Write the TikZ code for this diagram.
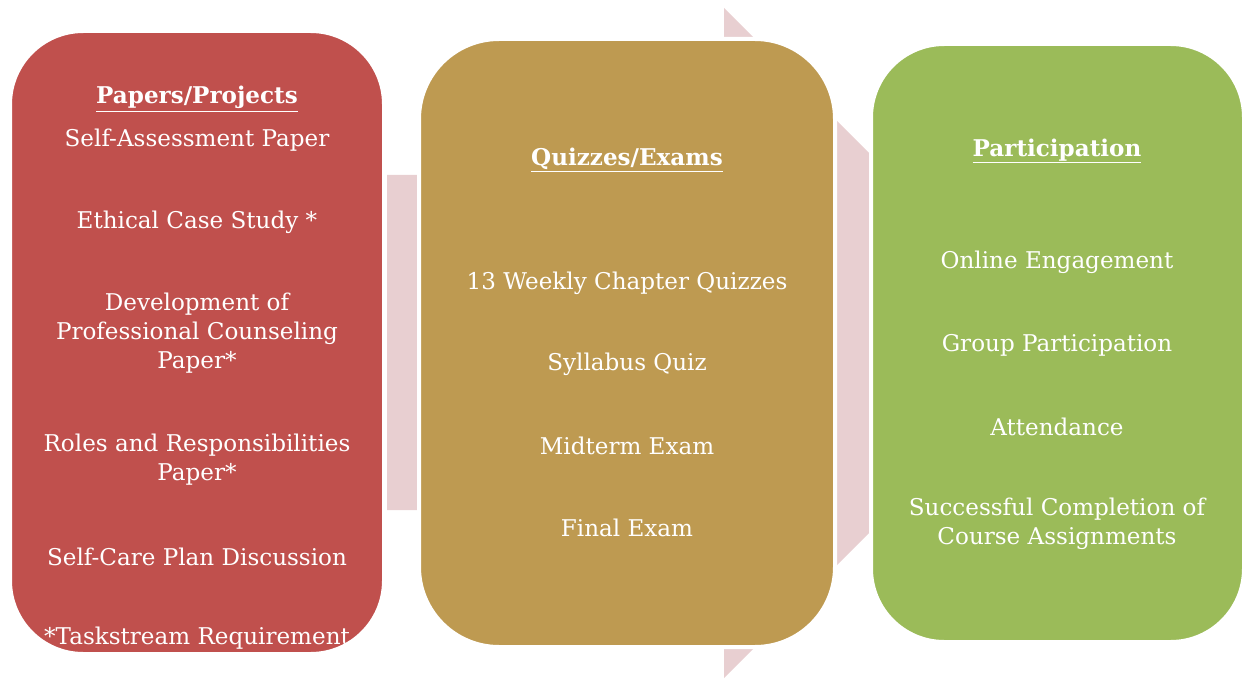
\documentclass[tikz,border=0pt]{standalone}
\usepackage{fontspec}
\setmainfont{DejaVu Serif}
\definecolor{redbox}{HTML}{C0504D}
\definecolor{goldbox}{HTML}{BE9A51}
\definecolor{greenbox}{HTML}{9BBB59}
\definecolor{arrowpink}{HTML}{E8CFD1}
\begin{document}
\begin{tikzpicture}[x=0.75pt,y=-0.75pt,
  box/.style={draw=white,line width=3pt},
  txt/.style={text=white,font=\fontsize{17.3}{21.75}\selectfont,align=center,inner sep=0pt},
  head/.style={txt,font=\fontsize{17.3}{21.75}\selectfont\bfseries}]
\useasboundingbox (0,0) rectangle (1243,681);
% background arrow
\fill[arrowpink] (387,175) -- (724,175) -- (724,8) -- (1059,343) -- (724,678) -- (724,510) -- (387,510) -- cycle;
% boxes
\draw[box,fill=redbox,rounded corners=55] (10,31) rectangle (384,654);
\draw[box,fill=goldbox,rounded corners=60] (419,39) rectangle (835,647);
\draw[box,fill=greenbox,rounded corners=55] (871,44) rectangle (1244,642);
% red texts
\node[head] (r0) at (197,99) {\underline{Papers/Projects}};
\node[txt] (r1) at (197,140) {Self-Assessment Paper};
\node[txt] (r2) at (197,222) {Ethical Case Study *};
\node[txt] (r3) at (197,333) {Development of\\Professional Counseling\\Paper*};
\node[txt] (r4) at (197,459.5) {Roles and Responsibilities\\Paper*};
\node[txt] (r5) at (197,557) {Self-Care Plan Discussion};
\node[txt] (r6) at (197,638) {*Taskstream Requirement};
% gold texts
\node[head] (g0) at (627,160) {\underline{Quizzes/Exams}};
\node[txt] (g1) at (627,283) {13 Weekly Chapter Quizzes};
\node[txt] (g2) at (627,364) {Syllabus Quiz};
\node[txt] (g3) at (627,446) {Midterm Exam};
\node[txt] (g4) at (627,528) {Final Exam};
% green texts
\node[head] (p0) at (1057,151) {\underline{Participation}};
\node[txt] (p1) at (1057,262) {Online Engagement};
\node[txt] (p2) at (1057,345) {Group Participation};
\node[txt] (p3) at (1057,427) {Attendance};
\node[txt] (p4) at (1057,523.5) {Successful Completion of\\Course Assignments};
\end{tikzpicture}
\end{document}
